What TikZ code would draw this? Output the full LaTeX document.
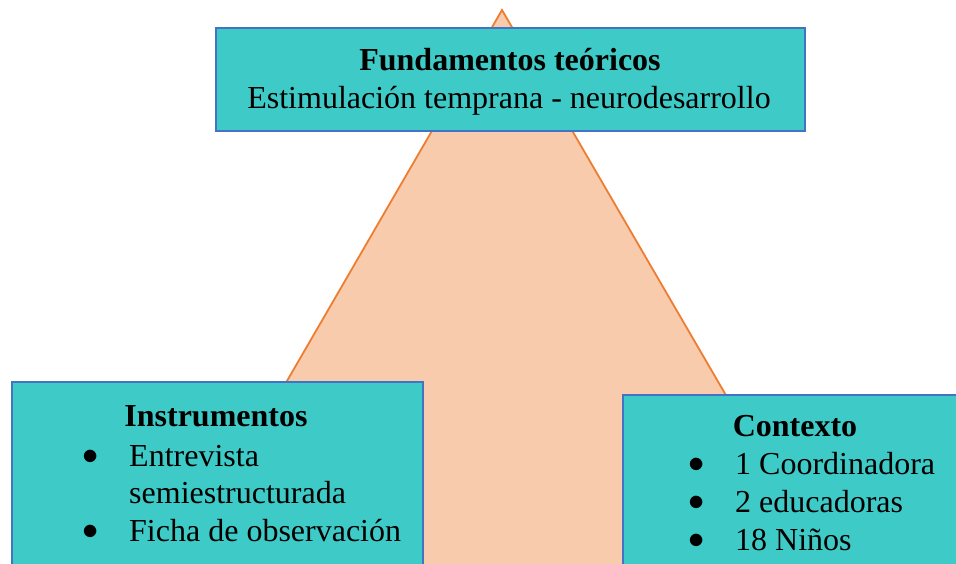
\documentclass[tikz,border=0pt]{standalone}
\usepackage{graphicx}
\usepackage{fontspec}
\setmainfont{Liberation Serif}
\definecolor{teal1}{HTML}{3ECBC7}
\definecolor{boxblue}{HTML}{4472C4}
\definecolor{trifill}{HTML}{F8CBAD}
\definecolor{triline}{HTML}{ED7D31}
\newcommand{\bigbul}{\raisebox{1.2pt}{\scalebox{1.3}{$\bullet$}}}
\begin{document}
\begin{tikzpicture}[x=1pt,y=-1pt,
  box/.style={draw=boxblue,fill=teal1,line width=2pt},
  txt/.style={inner sep=0pt,font=\fontsize{32}{38}\selectfont},
  bld/.style={txt,font=\fontsize{32}{38}\selectfont\bfseries},
  bul/.style={inner sep=0pt,font=\fontsize{32}{38}\selectfont}]
\useasboundingbox (0,0) rectangle (956,564);
\clip (0,0) rectangle (956,564);
% triangle
\coordinate (apex) at (502,10);
\coordinate (bl) at (160,600);
\coordinate (br) at (845,600);
\draw[fill=trifill,draw=triline,line width=1.8pt] (apex) -- (bl) -- (br) -- cycle;
% top box
\node[box,minimum width=589pt,minimum height=103pt,anchor=north west] (top) at (215,27) {};
\node[bld,anchor=base] (t1) at (510,71) {Fundamentos teóricos};
\node[txt,anchor=base] (t2) at (509,109) {Estimulación temprana - neurodesarrollo};
% left box
\node[box,minimum width=411pt,minimum height=190pt,anchor=north west] (left) at (11,381) {};
\node[bld,anchor=base] (l0) at (216,426) {Instrumentos};
\node[bul,anchor=base] (lb1) at (91,466) {\bigbul};
\node[txt,anchor=base west] (l1) at (129,466) {Entrevista};
\node[txt,anchor=base west] (l2) at (129,503) {semiestructurada};
\node[bul,anchor=base] (lb2) at (91,541) {\bigbul};
\node[txt,anchor=base west] (l3) at (129,541) {Ficha de observación};
% right box
\node[box,minimum width=340pt,minimum height=180pt,anchor=north west] (right) at (622,394) {};
\node[bld,anchor=base] (r0) at (795,436) {Contexto};
\node[bul,anchor=base] (rb1) at (697,474) {\bigbul};
\node[txt,anchor=base west] (r1) at (735,474) {1 Coordinadora};
\node[bul,anchor=base] (rb2) at (697,512) {\bigbul};
\node[txt,anchor=base west] (r2) at (735,512) {2 educadoras};
\node[bul,anchor=base] (rb3) at (697,550) {\bigbul};
\node[txt,anchor=base west] (r3) at (735,550) {18 Niños};
\end{tikzpicture}
\end{document}
